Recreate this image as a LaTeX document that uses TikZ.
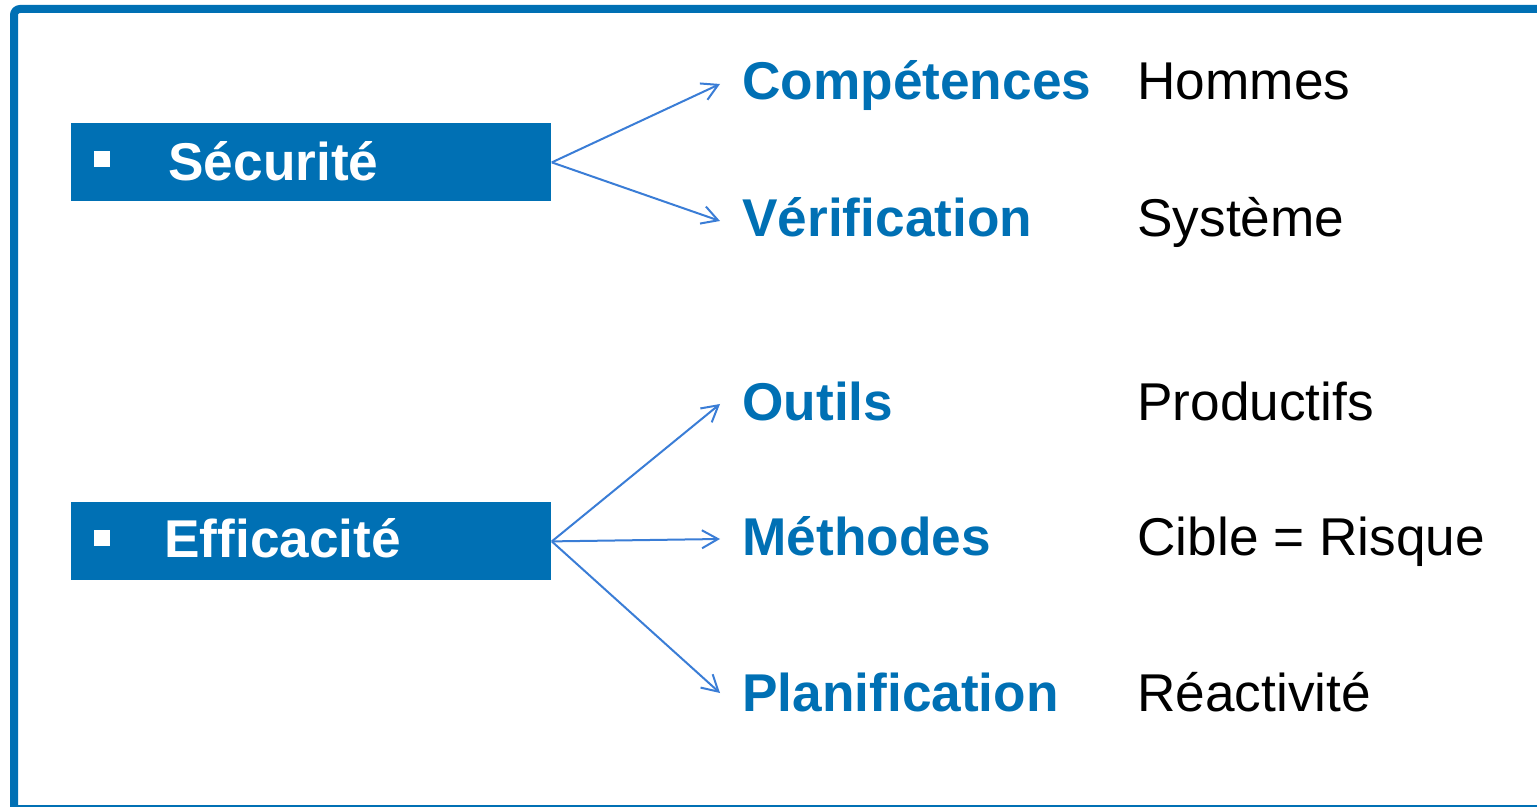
\documentclass[tikz,border=0pt]{standalone}
\usepackage{fontspec}
\setmainfont{Liberation Sans}
\usetikzlibrary{arrows.meta}
\definecolor{boxblue}{RGB}{0,112,180}
\definecolor{arrowblue}{RGB}{58,125,214}
\begin{document}
\begin{tikzpicture}[x=0.5pt,y=-0.5pt,
  box/.style={fill=boxblue, minimum width=240pt, minimum height=39pt, inner sep=0pt, anchor=north west},
  bulletsq/.style={fill=white, minimum size=8pt, inner sep=0pt},
  boxlabel/.style={anchor=base west, inner sep=0pt, text=white, font=\fontsize{26.6}{30}\selectfont\bfseries},
  keyword/.style={anchor=base west, inner sep=0pt, text=boxblue, font=\fontsize{26.6}{30}\selectfont\bfseries},
  note/.style={anchor=base west, inner sep=0pt, text=black, font=\fontsize{26.6}{30}\selectfont},
  link/.style={draw=arrowblue, line width=1pt, -{Straight Barb[length=8pt,width=9pt,line width=1pt]}}]
\useasboundingbox (0,0) rectangle (1537,807);
% frame
\draw[boxblue, line width=4pt, rounded corners=3pt] (14,807) -- (14,9) -- (1537,9);
\draw[boxblue, line width=1pt] (18,805.5) -- (1537,805.5);
% boxes
\node[box] (sec) at (71,123) {};
\node[box] (eff) at (71,502) {};
\node[bulletsq] (b1) at (102,159) {};
\node[bulletsq] (b2) at (102,538) {};
\node[boxlabel] (secl) at (168,181) {Sécurité};
\node[boxlabel] (effl) at (164,558) {Efficacité};
% keywords
\node[keyword] (comp) at (742,100) {Compétences};
\node[keyword] (verif) at (742,237) {Vérification};
\node[keyword] (outil) at (742,421) {Outils};
\node[keyword] (meth) at (742,555) {Méthodes};
\node[keyword] (plan) at (742,711) {Planification};
% notes
\node[note] (hom) at (1137,100) {Hommes};
\node[note] (sys) at (1137,237) {Système};
\node[note] (prod) at (1137,421) {Productifs};
\node[note] (cib) at (1137,555) {Cible = Risque};
\node[note] (rea) at (1137,711) {Réactivité};
% arrow ends
\coordinate (e1) at (720,84);
\coordinate (e2) at (720,221);
\coordinate (e3) at (720,404);
\coordinate (e4) at (720,539);
\coordinate (e5) at (720,693);
\draw[link] (sec.east) -- (e1);
\draw[link] (sec.east) -- (e2);
\draw[link] (eff.east) -- (e3);
\draw[link] (eff.east) -- (e4);
\draw[link] (eff.east) -- (e5);
\end{tikzpicture}
\end{document}
